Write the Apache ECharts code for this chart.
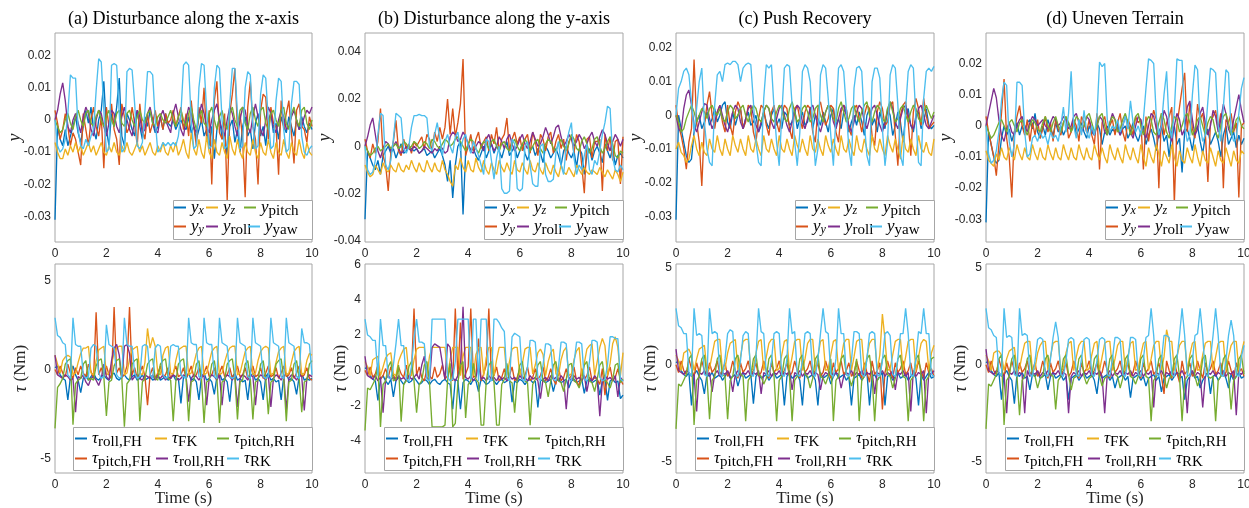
<!DOCTYPE html>
<html><head><meta charset="utf-8">
<script src="https://cdn.jsdelivr.net/npm/echarts@6/dist/echarts.min.js"></script>
<style>html,body{margin:0;padding:0;background:#fff}#c{width:1249px;height:508px}</style>
</head><body><div id="c"></div>
<script>
// sampling instants (s)
const time = Array.from({length:101},(_,i)=>i/10);

// ---------- top row: outputs y, values in units of 1e-3 ----------
const TOP_UNIT = 1e-3;
// (a)
const ya_x=[-31,-2,-6,-8,-3,-8,-5,-2,1,-4,-7,-2,3,-1,4,-3,-6,0,3,12,-3,-8,2,-2,4,13,-5,-8,2,0,-3,-5,3,-2,-6,1,-2,3,-1,-4,-2,1,-3,2,-1,-2,0,-3,-1,0,-2,-3,1,-4,-2,-6,-3,0,-5,-3,-8,-2,-12,-3,1,-6,-4,-11,-2,0,-7,-3,-10,-2,1,-5,-3,-9,-1,2,-5,-2,-8,0,2,-4,-1,-6,1,-2,-4,1,-2,-5,0,-3,1,-2,-4,-1,-3];
const ya_y=[3,-1,-6,-3,2,-2,-8,-4,-6,-10,-14,2,-3,-8,0,4,-2,-5,1,-15,4,-2,5,-3,-6,-14,5,1,-4,-2,4,-1,-8,5,-3,-6,2,-4,-1,3,-2,1,-3,2,-1,0,3,-2,1,4,-3,2,-5,6,-2,-8,4,-1,10,-6,3,-20,6,12,-4,-6,2,-25,2,8,16,-3,2,-6,-24,4,12,-2,-6,-20,3,8,7,-6,4,-1,-2,-17,6,-3,2,6,-4,-13.5,3,5,-2,-3,-7,1,-2];
const ya_z=[-7,-10,-12,-12,-9,-11,-8,-10,-7,-10,-8,-11,-9,-7,-10,-8,-11,-9,-7,-10,-11,-8,-10,-7,-10,-11,-8,-10,-7,-10,-11,-9,-7,-10,-8,-11,-9,-7,-10,-11,-8,-10,-7,-10,-11,-8,-10,-7,-11,-9,-6,-10,-12,-4,-9,-11,-6,-10,-12,-5,-10,-12,-6,-10,-11,-7,-10,-12,-5,-9,-11,-6,-10,-12,-7,-10,-11,-6,-10,-12,-7,-10,-11,-6,-10,-12,-7,-10,-11,-6,-10,-12,-7,-10,-11,-6,-10,-12,-7,-10,-11];
const ya_roll=[0,3,8,11.5,6,-2,-4,0,2,-1,-4,1,4,2,-3,-5,0,3,2,-2,-5,-1,3,2,-2,-4,1,4,0,-3,-5,0,3,1,-4,-3,2,4,0,-3,-4,1,3,0,-2,-4,2,5,1,-3,-5,0,4,2,-2,-4,1,5,2,-2,-4,0,3,5,0,-3,-5,0,4,2,-2,-5,0,4,3,-2,-4,1,5,1,-3,-5,0,4,2,-2,-4,0,3,1,-3,-2,1,3,0,-3,-2,1,3,2,4];
const ya_pitch=[0,-2,-4,-3,0,2,-1,-3,1,3,0,-2,2,3,-1,-2,1,3,0,-2,1,3,0,-2,2,3,-1,-2,2,3,0,-2,1,3,0,-1,2,3,-1,-2,1,2,0,-1,1,3,0,-2,1,3,0,-2,2,4,0,-3,1,3,-1,-2,2,4,0,-3,1,3,-1,-3,2,4,0,-2,3,4,-1,-3,2,4,0,-2,3,4,-1,-3,2,3,0,-2,3,4,-1,-3,2,4,0,-2,3,4,-1,-3,0];
const ya_yaw=[0,-8,-10,-9,-6,2,14,13,13,-3,-8,-9,-6,-8,-5,-3,9,19,18,3,-10,-9,17,17.5,17,2,-10,-9,15,16,15.5,5,-8,-9,-7,3,15,15,14,0,-10,-9,-7,-8,-7,-8,-7,-8,-5,2,17,18,17,0,-9,-8,10,17.5,17,3,-9,-8,10,17,16,0,-9,-8,5,16,16,2,-9,-8,10,15,14,-2,-9,-8,8,14,13,0,-9,-8,6,13,12,-3,-10,-9,5,12,12,11,-5,-10,-11,-9,-8];
// (b)
const yb_x=[-31,-2,-5,-8,-10,-6,-12,-4,-2,0,-3,-1,-5,-2,1,-3,-2,0,-1,-2,-1,-3,-2,-1,-4,-3,-2,-5,-3,-1,-4,-8,-15,-6,-22,-8,0,2,-29,-3,1,-2,-1,-4,-6,-3,0,-5,-2,1,-3,0,-2,-5,-1,2,-4,-2,0,-5,-2,1,-3,-6,-2,0,-4,-1,-3,-7,0,-2,-5,-3,-1,-4,-8,-2,0,-3,-5,-2,-9,-1,-3,-12,-4,-1,-6,-2,0,-3,-7,1,-2,-5,-1,-8,-4,-3,-5];
const yb_y=[3,-2,-5,1,-3,2,16,-4,-8,-19,-3,2,11,-2,-4,3,-1,1,-3,2,0,2,4,-1,5,3,-2,6,2,8,3,8,20,5,16,4,10,18,37,-4,0,5,-2,3,6,-1,2,4,-2,5,1,8,-2,3,5,12,-2,3,6,1,4,-2,3,5,-3,6,2,-4,5,3,-2,4,6,-3,2,5,-1,3,-6,2,4,-3,5,2,-8,-20,3,4,-5,2,2,3,-19,5,-2,4,-6,2,3,-16,4];
const yb_z=[-8,-11,-13,-12,-8,-10,-12,-7,-10,-11,-8,-10,-11,-7,-10,-11,-8,-10,-6,-9,-11,-7,-10,-11,-6,-9,-11,-7,-10,-11,-6,-10,-12,-15,-17,-8,-10,-5,-9,-11,-6,-10,-11,-5,-9,-11,-6,-10,-12,-7,-10,-12,-6,-9,-11,-7,-10,-12,-6,-10,-11,-7,-10,-12,-6,-10,-11,-7,-10,-12,-7,-10,-12,-8,-11,-13,-8,-11,-12,-9,-11,-13,-8,-10,-12,-9,-11,-12,-10,-11,-12,-9,-11,-13,-10,-12,-14,-10,-12,-15,-11];
const yb_roll=[0,4,9,12,5,-2,-5,-1,2,1,-2,0,2,-1,-3,-2,0,-1,-2,0,-1,-3,-2,0,-1,-2,-3,-1,-2,0,-1,-3,-2,4,6,5,2,3,6,4,1,-2,-3,0,2,1,-2,3,5,1,-2,0,4,2,-1,3,5,1,-2,0,3,5,1,-1,2,6,3,0,1,4,8,5,1,4,8,9,4,0,2,5,3,0,2,5,3,-1,1,4,6,2,0,4,7,5,1,-2,2,5,3,0,3];
const yb_pitch=[0,-2,-4,-3,-1,0,-2,-1,0,1,-1,0,1,-1,0,2,1,-1,0,2,1,-1,0,2,1,-1,3,2,0,-1,1,3,2,0,1,3,4,2,0,-2,1,3,2,-1,-3,0,2,1,-1,2,3,0,-2,1,2,-1,-2,1,3,0,-2,1,3,1,-2,0,2,3,-1,-3,1,3,2,-1,-2,1,3,0,-2,1,5,3,-1,-2,2,4,1,-3,-1,3,4,0,-3,-1,2,4,1,-4,-5,-2,-3];
const yb_yaw=[0,-10,-12,-11,-6,5,14,13,-8,-10,-6,3,14,13,12,-1,-3,0,8,13,13,13.5,13,13,12,0,-2,5,10,3,-4,2,5,0,-3,4,6,-2,3,5,0,-3,2,-1,-4,-8,-12,3,2,-6,-14,-5,0,-18,-20,-20,-19,3,1,-18,-19,-18,0,2,-8,-16,-17,-17,0,1,-12,-15,-15,-14,-3,2,-8,-12,0,6,10,-5,-12,-8,-10,-4,1,-10,-12,-6,-8,-2,5,10,17,16,-5,-10,-11,-8,-10];
// (c)
const yc_x=[-31,0,-4,-8,-12,-14,-13,-5,-2,0,-4,-2,1,-3,-1,2,-2,0,3,4,-2,-4,1,-3,0,2,-4,-1,1,-3,-2,0,-5,-3,1,-2,-4,0,2,-3,-1,-4,1,0,-3,-2,2,-4,-1,1,-3,-2,2,-4,0,-1,-3,1,-2,-5,0,2,-3,-1,-4,1,2,-5,-2,0,-3,1,-2,-6,0,2,-3,-1,-5,1,-2,-4,2,0,-6,-3,1,-2,-8,0,2,-3,-5,0,1,-4,-2,2,-3,-4,-3];
const yc_y=[3,-3,-6,-10,-16,-8,-4,16.5,-2,-8,-21,-3,3,7,0,-4,1,3,-2,-5,3,-3,-6,1,4,2,-4,-2,3,2,-5,-8,-1,3,2,-3,-6,1,3,-2,-5,0,3,2,-4,-7,2,3,-1,-4,1,3,2,-5,-8,2,4,0,-3,-1,3,2,-5,-8,1,3,2,-4,-6,2,3,-1,-5,0,3,2,-6,-9,1,4,2,-3,-2,3,4,-6,-15,0,3,4,-2,-12,1,5,2,-3,5,0,-4,-3,-2];
const yc_z=[-10,-8,-11,-12,-14,-13,-9,-6,-10,-12,-8,-11,-12,-7,-10,-11,-6,-10,-12,-7,-10,-12,-6,-9,-11,-7,-10,-12,-6,-10,-11,-7,-10,-12,-6,-10,-11,-7,-10,-12,-6,-10,-11,-7,-10,-12,-6,-9,-11,-7,-10,-12,-6,-10,-11,-7,-10,-12,-6,-9,-11,-7,-10,-12,-6,-10,-11,-7,-10,-12,-6,-10,-11,-7,-10,-12,-6,-10,-11,-7,-10,-12,-6,-9,-11,-7,-10,-13,-6,-10,-11,-7,-10,-12,-6,-10,-11,-8,-11,-12,-7];
const yc_roll=[0,-4,-5,2,6,7.5,3,-3,-5,-2,1,3.5,3,-1,-4,-2,1,3,0,-3,-5,-2,1,3,2,-2,-4,-1,2,3,0,-3,-5,-2,1,3,2,-2,-4,-1,2,3,0,-3,-5,-2,1,3,2,-2,-4,-1,2,3,0,-3,-5,-2,1,3,2,-2,-4,-1,2,3,0,-3,-5,-2,1,3,2,-2,-4,-1,2,3,0,-3,-5,-2,1,4,2,-2,-4,-1,2,3,0,-3,-4,-1,2,3,0,-3,-4,-2,0];
const yc_pitch=[0,-2,-5,-4,-1,1,3,1,-2,0,2,1,-1,2,3,1,0,2,-1,-2,1,3,2,-1,0,2,3,0,-2,1,3,2,-1,-2,1,3,2,-1,-2,1,3,2,-1,-2,2,4,1,-2,-1,2,3,1,-2,-1,2,3,0,-2,1,3,2,-1,-2,2,4,1,-2,-1,2,3,0,-2,1,3,4,0,-2,1,3,2,-1,-2,2,4,1,-2,-1,2,3,0,-2,1,3,2,-1,-2,1,3,1,-1,1];
const yc_yaw=[0,8,10,13,14,12,4,-5,2,10,14,-2,-10,-14,-15,3,12,13,10,15,15.5,15,16,16,15,10,14,15,15.5,15,4,-8,-14,-15,5,15,14,15,2,-8,-15,0,14,15,14.5,3,-8,-15,-5,13,15,14,10,-3,-15,-10,12,15,14,5,-6,-15,0,14,15,13,2,-10,-15,8,14,14.5,13,-2,-12,-15,10,14,14,11,-4,-15,-8,12,15,14,3,-12,-15,2,13,15,14,-1,-14,-15,5,13,14,13,14.5];
// (d)
const yd_x=[-31,-2,-6,-10,-12,-11,-4,0,-3,-1,-5,-2,1,-3,0,-2,1,2,-1,4,-2,-4,0,-3,2,-1,-3,1,-2,0,-3,-1,1,-2,2,-3,-1,1,-2,-4,0,-2,-3,1,-1,-6,-2,0,-3,-1,-2,1,-3,-1,0,-4,-2,1,-3,-5,-2,0,-6,-3,-1,-4,-8,-2,0,-5,-3,-10,-2,0,-6,-4,-15,-2,-1,-4,-8,-2,0,-5,-9,-3,-1,-6,-4,-2,-5,-10,-3,0,-6,-4,-2,-7,-3,-6,-4];
const yd_y=[3,-2,-6,-10,-16,-6,4,15,-4,-10,-23,-2,3,6.5,0,-3,2,-5,1,-3,2,-4,-1,3,-2,1,-5,2,-1,-3,1,3,-4,-2,2,0,-5,3,1,-2,2,-3,-6,4,-14,1,3,-2,0,2,-3,1,4,-2,-5,2,0,-3,3,1,2,-14,3,-5,1,5,2,-20,4,-3,1,3,6,-25,0,6,12,17,-2,7,-1,-4,7,2,4,-2,-18,1,3,5,-1,4,-20,2,1,4,-2,1,-23,0,1];
const yd_z=[-8,-11,-12,-13,-9,-11,-7,-10,-11,-7,-9,-11,-6,-9,-11,-7,-10,-11,-6,-9,-11,-7,-10,-11,-6,-9,-11,-7,-10,-11,-6,-9,-11,-7,-10,-11,-6,-9,-11,-7,-10,-11,-6,-9,-11,-7,-10,-12,-6,-9,-11,-7,-10,-12,-6,-9,-11,-7,-10,-12,-6,-10,-13,-7,-10,-12,-6,-9,-13,-8,-10,-12,-6,-10,-13,-8,-11,-12,-7,-10,-12,-6,-10,-13,-8,-11,-12,-7,-10,-13,-8,-11,-12,-7,-10,-13,-8,-11,-12,-8,-9];
const yd_roll=[0,4,8,12,9,2,-3,-5,-1,1,-2,-3,0,2,3,0,-2,1,3,2,0,1,2,0,-1,1,3,2,0,1,3,2,-1,0,3,4,1,-2,0,3,2,-1,-3,0,3,2,-2,-3,1,4,2,-1,-3,0,3,1,-2,-4,0,3,2,-2,-4,0,4,3,-1,-4,0,5,3,-2,-5,0,4,2,-3,-1,6,8,2,-3,-1,4,6,1,-3,0,5,3,-2,2,7,4,-1,-3,2,6,10,5,1];
const yd_pitch=[0,-2,-4,-3,-1,1,2,0,-2,1,2,0,-2,1,2,-1,-3,0,2,1,-1,-2,1,3,0,-2,1,3,0,-2,1,3,1,-2,0,3,2,-1,0,3,4,1,-2,0,3,4,0,-3,1,3,2,-2,-1,2,4,1,-3,0,3,4,0,-3,1,3,2,-2,-3,1,4,2,-2,-4,0,3,2,-2,0,3,4,1,-3,-1,2,3,0,-3,1,3,2,-2,-4,0,3,4,1,-3,-1,2,3,0,-1];
const yd_yaw=[0,-9,-12,-11,-8,-2,8,14,13,-5,-10,-6,14,14,13,-2,-10,-9,-4,-3,-5,-2,-4,-3,-6,-2,-4,-3,-5,0,6,-2,4,17.5,0,-4,2,-3,5,-2,-4,0,-3,3,20.5,19,20,2,-2,0,-1,2,-2,0,3,-1,8,1,-2,0,-3,2,12,21.5,21,20,3,-3,0,10,17.5,0,-4,5,21.5,21,21,0,-5,-3,10,19.5,18,0,-5,-3,8,18.5,18,17,0,-5,6,18,17,-2,-5,-4,4,12,15.5];

// ---------- bottom row: torques tau (Nm) ----------
// (a)
const ta_rollFH=[0.1,0.2,-0.3,-0.5,-0.6,-1.7,-0.4,0.2,-0.3,-0.6,-1.3,-0.5,-0.3,-0.6,-0.4,-0.2,-0.5,-0.6,-0.4,-0.3,-0.5,-0.6,-0.3,-0.2,-0.5,-0.6,-0.4,-0.3,-0.5,-0.6,-0.4,-0.3,-0.6,-0.5,-0.3,-0.6,-0.5,-0.4,-0.6,-0.5,-0.3,-0.6,-0.5,-0.4,-0.6,-0.5,-0.3,-0.6,-0.5,-1.9,-0.4,-0.5,-0.2,-0.6,-0.5,-0.7,-1.7,-0.4,-0.2,-0.6,-0.5,-0.7,-1.4,-0.4,-0.2,-0.6,-0.5,-0.7,-1.8,-0.4,-0.2,-0.6,-0.5,-0.7,-0.6,-1.7,-0.4,-0.2,-0.6,-0.5,-0.7,-1.7,-0.4,-0.2,-0.6,-0.5,-0.7,-0.6,-1.7,-0.4,-0.2,-0.6,-0.5,-0.7,-1.4,-0.4,-0.2,-0.6,-0.5,-0.6,-0.5];
const ta_pitchFH=[0.0,-0.3,0.2,-0.2,-0.4,0.3,-0.2,-0.5,0.1,-0.3,0.2,-0.2,-0.4,0.3,-0.1,-0.5,3.2,-0.3,0.1,-0.4,0.2,-0.3,-0.5,3.5,-0.2,0.1,-0.4,-0.3,0.2,3.5,-0.3,0.1,-0.5,-0.2,0.2,-0.4,-2.0,-0.3,0.1,-0.5,-0.2,0.2,-0.4,-0.3,0.1,-0.5,-0.2,0.2,-0.4,-0.3,0.1,-0.5,-0.2,0.2,-0.4,-0.3,0.1,-0.5,-0.2,0.2,-0.4,-0.3,0.1,-0.5,-0.2,0.2,-0.4,-0.3,0.1,-0.5,-0.2,0.2,-0.4,-0.3,0.1,-0.5,-0.2,0.2,-0.4,-0.3,0.1,-0.5,-0.2,0.2,-0.4,-0.3,0.1,-0.5,-0.2,0.2,-0.4,-0.3,0.1,-0.5,-0.2,0.2,-0.4,-0.3,0.1,-0.5,-0.6];
const ta_FK=[0.8,0.3,-0.2,0.5,0.7,0.8,0.7,-0.3,-0.2,0.4,0.9,1.2,1.2,1.3,-0.2,-0.3,0.5,1.1,1.2,1.3,-0.3,-0.2,0.3,0.9,1.2,1.3,1.3,-0.3,-0.2,0.6,1.1,1.2,1.3,-0.2,-0.3,0.4,2.3,1.2,1.8,1.3,-0.2,-0.3,0.8,1.2,1.3,-0.2,-0.3,0.5,1.1,1.2,1.3,1.3,-0.3,-0.2,0.3,0.9,1.2,1.3,-0.3,-0.2,0.4,1.0,1.2,1.3,-0.3,-0.2,0.4,0.9,1.2,1.3,1.3,-0.3,-0.2,0.4,1.0,1.2,1.3,-0.3,-0.2,0.5,1.0,1.2,1.3,1.2,-0.3,-0.2,0.4,1.0,1.2,1.3,-0.3,-0.2,0.4,1.0,1.2,1.3,-0.3,-0.2,0.5,0.9,0.8];
const ta_rollRH=[0.8,-0.3,-0.4,-0.5,-0.3,-0.4,-0.6,-0.5,-2.4,-0.4,-0.5,-0.3,-0.7,-0.9,-0.5,-0.4,-0.6,-0.9,-0.5,0.3,-0.4,-0.6,0.5,1.2,1.4,0.8,-0.5,1.3,1.4,0.9,-0.6,-0.4,-0.3,-0.5,-0.6,-0.3,-0.4,-0.5,-0.3,-0.6,-0.4,-0.5,-0.3,-0.6,-0.4,-0.5,-0.3,-0.4,-0.6,-0.5,-0.3,-0.4,-1.8,-0.5,-0.3,-0.4,-0.6,-0.3,-0.4,-2.0,-0.5,-0.3,-0.4,-0.6,-0.3,-2.0,-0.5,-0.3,-0.4,-0.6,-0.3,-2.1,-0.5,-0.3,-0.4,-0.6,-0.3,-0.4,-2.0,-0.5,-0.3,-0.4,-0.6,-0.3,-2.1,-0.5,-0.3,-0.4,-0.6,-0.3,-2.3,-0.5,-0.3,-0.4,-0.6,-0.3,-0.4,-2.3,-0.5,-0.3,-0.4];
const ta_pitchRH=[-3.3,-1.0,-0.8,-0.5,0.3,0.5,0.6,-3.1,-0.8,-0.6,-0.5,0.3,0.5,-0.6,-0.5,-0.6,0.2,0.5,0.6,-0.4,-2.6,-0.7,-0.6,0.2,0.5,0.6,-0.5,-3.2,-0.8,-0.6,0.3,0.5,0.6,-2.9,-0.7,-0.5,0.3,0.5,0.6,-0.5,-0.6,0.3,0.5,0.6,-0.5,-0.6,-2.9,-0.7,0.3,0.5,0.6,-0.5,-2.9,-0.7,-0.6,0.3,0.5,-0.5,-3.0,-0.7,-0.6,0.3,0.5,-0.5,-3.0,-0.7,-0.6,0.3,0.5,0.6,-0.5,-2.8,-0.7,-0.6,0.3,0.5,-0.5,-2.8,-0.7,-0.6,0.3,0.5,-0.5,-2.5,-0.7,-0.6,0.3,0.5,0.6,-0.5,-2.9,-0.7,-0.6,0.3,0.5,-0.5,-2.4,-0.7,-0.6,0.3,0.5];
const ta_RK=[2.9,1.9,1.8,1.5,1.4,-0.3,-0.5,2.9,1.4,1.3,1.3,-0.3,-0.5,-0.4,1.2,1.4,1.3,-0.2,-0.5,-0.4,2.5,1.4,1.3,1.2,-0.3,-0.5,-0.4,2.9,1.4,1.3,1.3,-0.2,-0.5,-0.4,1.3,1.4,1.3,-0.3,-0.5,1.2,1.4,1.3,-0.3,-0.5,-0.4,1.3,1.4,1.3,1.3,-0.3,-0.4,-0.5,2.9,1.5,1.4,1.4,-0.4,-0.5,2.9,1.5,1.4,1.4,-0.4,-0.5,2.9,1.5,1.4,1.3,-0.4,-0.5,-0.4,2.9,1.5,1.4,1.3,-0.4,-0.5,2.9,1.5,1.4,1.3,-0.4,-0.5,-0.4,2.9,1.5,1.4,1.3,-0.4,-0.5,2.9,1.5,1.4,1.3,-0.4,-0.5,2.3,1.5,1.5,1.4,-0.3];
// (b)
const tb_rollFH=[0.1,0.2,-0.3,-0.5,-0.6,-1.7,-0.5,-0.3,-0.6,-0.8,-0.5,-1.5,-0.6,-0.4,-0.6,-0.8,-0.5,-0.7,-0.6,-0.4,-0.6,-0.8,-0.7,-0.5,-0.6,-0.8,-0.6,-0.5,-0.7,-0.8,-0.6,-0.5,-0.7,-0.8,-2.2,-0.5,-0.6,-2.2,-0.7,-0.5,-0.6,-0.8,-0.5,-0.6,-1.2,-0.5,-0.6,-0.8,-0.7,-0.5,-0.6,-0.8,-0.6,-0.5,-0.7,-0.6,-0.5,-1.8,-0.6,-0.7,-0.5,-0.6,-0.8,-0.6,-0.5,-0.7,-0.6,-2.1,-0.6,-0.5,-0.7,-0.6,-0.5,-1.2,-0.6,-0.5,-0.7,-0.6,-0.5,-1.0,-0.6,-0.5,-0.7,-0.6,-0.5,-1.3,-0.6,-0.5,-0.7,-0.6,-0.5,-1.4,-0.6,-0.5,-1.7,-0.6,-0.5,-0.7,-0.6,-1.6,-1.4];
const tb_pitchFH=[0.0,-0.3,0.2,-0.4,-0.2,0.3,-0.5,-0.3,0.1,-0.4,0.2,-0.3,-0.5,0.2,-0.2,-0.4,0.3,-0.5,-0.2,3.5,-0.3,0.2,-0.4,-0.6,0.1,-0.3,-0.5,0.2,-0.4,-0.2,0.3,-0.5,-0.3,0.1,-0.6,3.5,-0.4,2.7,-0.5,-0.2,0.2,3.5,-0.4,-0.3,1.8,-0.6,-0.2,0.3,3.5,-0.5,-0.3,0.2,-0.6,-0.4,0.1,-0.5,-0.3,0.2,-0.6,-0.4,0.1,-0.5,-0.3,0.2,-0.6,-0.4,0.1,-0.5,-0.3,0.2,-0.6,-0.4,0.1,-0.5,-0.8,0.2,-0.6,-0.4,0.1,-0.5,-0.3,0.2,-0.6,-0.9,0.1,-0.5,-0.3,0.2,-0.6,-0.4,-0.5,-0.8,0.1,-1.4,-0.3,0.2,-0.6,-0.4,0.1,-0.5,-0.8];
const tb_FK=[0.5,0.2,-0.3,0.6,0.7,0.8,-0.3,0.2,0.7,0.9,1.0,-0.2,-0.3,0.5,0.9,1.2,1.3,-0.2,-0.3,0.6,1.2,1.3,1.3,1.3,-0.3,0.8,1.3,1.3,1.3,1.3,1.3,1.3,-0.3,0.6,1.3,1.3,1.3,-0.3,0.8,1.3,1.3,1.3,-0.3,0.9,1.3,1.3,-0.3,0.7,1.3,1.3,-0.3,0.6,1.3,1.3,1.3,-0.3,0.5,1.2,1.3,1.3,-0.3,0.4,1.2,1.3,1.3,-0.2,0.3,1.0,1.2,0.9,-0.3,0.5,1.0,1.2,-0.2,-0.3,0.6,1.1,1.3,-0.3,-0.2,0.6,1.1,1.3,-0.3,0.4,1.2,1.4,1.5,-0.3,0.5,1.3,1.8,1.4,-0.3,0.4,1.5,1.9,1.3,-0.3,1.0];
const tb_rollRH=[0.8,-0.3,-0.4,-0.5,-0.3,-0.6,-0.4,-2.4,-0.5,-0.3,-0.5,-0.4,-0.6,-0.3,-0.5,-0.4,-0.6,-0.3,-0.5,-0.4,-0.2,-0.5,0.3,0.8,-0.4,-0.6,1.3,1.5,1.4,1.3,0.4,-0.5,1.5,1.3,-0.4,-0.6,-0.3,0.2,3.6,-0.4,-0.5,-0.3,-0.6,-0.4,0.3,-0.5,-0.4,-0.6,-0.3,-0.5,-0.4,-0.6,-0.3,-0.5,-0.4,-0.6,-0.3,-0.5,-0.4,-0.6,-0.3,-0.5,-0.4,-0.6,-0.3,-0.5,-0.4,-0.6,-1.6,-0.5,-0.4,-0.6,-0.3,-0.5,-0.4,-0.6,-0.3,-0.5,-2.2,-0.4,-0.6,-0.3,-0.5,-0.4,-0.6,-0.3,-1.2,-0.4,-0.6,-0.3,-0.5,-2.6,-0.6,-0.3,-0.5,-0.4,-0.6,-0.3,-1.5,-0.4,-0.6];
const tb_pitchRH=[-3.4,-1.0,-1.1,-0.8,-0.5,0.3,-3.2,-0.8,-0.6,0.2,0.5,-0.6,-0.5,0.3,-2.9,-0.8,-0.6,0.2,0.5,-0.6,-2.4,-0.8,-0.6,0.3,0.5,-0.7,-3.2,-3.2,-3.2,-3.2,-3.2,-3.1,-0.6,0.4,-3.2,-3.0,-0.7,0.3,0.5,-2.7,-0.8,-0.6,0.4,-0.5,-0.7,-3.1,-3.1,-0.6,0.3,0.5,-0.7,-3.1,-3.1,-0.8,-0.5,0.4,-0.6,-0.7,-2.4,-0.6,0.3,0.5,-0.6,-0.7,-3.1,-0.8,-0.5,0.3,0.5,-0.6,-0.7,-1.5,-0.6,0.3,0.5,-0.6,-0.7,-1.2,-0.5,0.3,0.4,-0.6,-0.7,-1.0,-0.5,0.3,0.5,-0.6,-0.7,-1.2,-0.5,0.3,0.5,-0.6,-0.7,-1.0,-0.5,0.3,0.4,-0.7,-0.5];
const tb_RK=[2.9,2.0,1.9,1.7,1.7,-0.3,2.9,1.4,1.4,-0.4,-0.5,0.3,1.5,2.9,1.4,1.4,-0.5,-0.6,0.2,1.8,2.9,1.6,1.6,1.5,-0.5,-0.6,2.9,2.9,2.9,2.9,2.9,2.9,-0.4,-0.6,-0.5,0.5,2.9,2.9,2.9,2.9,2.9,-0.5,2.9,2.9,-0.6,2.9,2.9,2.9,-0.5,-0.6,2.9,2.9,2.7,2.4,2.2,-0.4,-0.6,1.9,2.1,2.0,1.9,-0.5,-0.6,0.2,1.7,1.7,1.6,-0.4,-0.6,0.3,1.5,1.5,1.4,-0.5,-0.6,0.2,1.6,1.6,1.5,-0.5,-0.6,0.4,1.6,1.6,1.5,-0.5,-0.6,0.5,1.7,1.7,1.6,-0.4,-0.6,-0.5,0.3,1.9,1.9,1.8,1.8,-0.5,-0.6];
// (c)
const tc_rollFH=[0.1,0.2,-0.3,-0.5,-0.6,-0.4,-2.1,-0.5,-0.3,-0.6,-0.8,-1.5,-0.5,-0.6,-0.4,-0.7,-0.6,-0.5,-0.8,-0.6,-0.4,-0.7,-0.6,-0.5,-1.1,-0.6,-0.4,-0.7,-0.6,-0.5,-2.0,-0.6,-0.4,-0.7,-0.6,-0.5,-0.8,-0.6,-0.4,-0.7,-0.6,-0.5,-2.1,-0.6,-0.4,-0.7,-0.6,-0.5,-0.8,-2.1,-0.4,-0.7,-0.6,-0.5,-0.8,-2.1,-0.4,-0.7,-0.6,-0.5,-1.0,-0.6,-0.4,-0.7,-0.6,-0.5,-0.8,-0.6,-2.1,-0.7,-0.6,-0.5,-0.8,-0.6,-0.4,-2.1,-0.6,-0.5,-0.8,-0.6,-0.4,-2.1,-0.6,-0.5,-0.8,-0.6,-0.4,-0.7,-0.6,-0.5,-0.8,-0.6,-0.4,-0.7,-2.1,-0.5,-0.8,-0.6,-0.4,-0.7,-0.6];
const tc_pitchFH=[0.0,-0.4,0.2,-0.3,-0.5,0.3,-0.2,-0.6,0.1,-0.4,0.2,-0.3,-0.6,0.1,-0.4,-0.2,0.2,-0.5,-0.3,0.1,-0.6,-0.4,0.2,-0.3,-0.7,0.1,-0.4,-0.2,0.2,-0.5,-0.3,0.1,-0.6,-0.4,0.2,-0.3,-0.7,0.1,-0.4,-0.2,0.2,-0.5,-0.3,0.1,-0.6,-0.4,0.2,-0.3,-0.7,0.1,-0.4,-0.2,0.2,-0.5,-0.3,0.1,-0.6,-0.4,0.2,-0.3,-0.7,0.1,-0.4,-0.2,0.2,-0.5,-0.3,0.1,-0.6,-0.4,0.2,-0.3,-0.7,0.1,-0.4,-0.9,0.2,-0.5,-0.3,0.1,-2.3,-0.4,0.2,-0.3,-0.7,0.1,-0.4,-0.2,0.2,-0.5,-0.3,0.1,-0.6,-0.4,0.2,-0.3,-0.7,0.1,-0.4,-0.2,-0.6];
const tc_FK=[0.5,0.2,-0.3,0.6,0.7,0.8,0.5,-0.3,0.3,0.8,0.9,1.0,-0.3,-0.2,0.5,1.2,1.3,1.3,-0.3,-0.2,0.6,1.1,1.2,1.3,-0.3,0.4,1.2,1.3,1.3,-0.3,-0.2,0.6,1.2,1.3,-0.3,0.4,1.1,1.3,1.3,-0.3,-0.2,0.5,1.2,1.3,-0.3,0.4,1.2,1.3,1.3,-0.3,0.3,1.1,1.3,1.3,-0.3,0.4,1.2,1.3,-0.3,-0.2,0.5,1.2,1.3,-0.3,0.3,1.1,1.3,1.3,-0.3,0.4,1.2,1.3,1.3,-0.3,0.4,1.1,1.3,1.3,-0.3,0.5,2.6,1.3,-0.3,-0.2,0.5,1.2,1.3,1.3,-0.3,0.4,1.2,1.3,1.3,-0.3,0.4,1.1,1.3,1.2,-0.3,0.6,1.0];
const tc_rollRH=[0.8,-0.3,-0.4,-0.5,-0.3,-0.4,-0.6,-0.5,-2.4,-0.4,-0.5,-0.3,-0.6,-0.4,-1.4,-0.5,-0.3,-0.6,-0.4,-0.5,-0.3,-0.6,-1.4,-0.5,-0.3,-0.6,-0.4,-0.5,-0.3,-0.6,-0.4,-0.5,-0.3,-1.5,-0.4,-0.5,-0.3,-0.6,-0.4,-0.5,-0.3,-0.6,-0.4,-0.5,-0.3,-1.3,-0.4,-0.5,-0.3,-0.6,-0.4,-0.5,-0.3,-0.6,-0.4,-0.5,-1.3,-0.6,-0.4,-0.5,-0.3,-0.6,-0.4,-0.5,-1.2,-0.6,-0.4,-0.5,-0.3,-0.6,-0.4,-0.5,-0.3,-0.6,-0.4,-0.5,-0.3,-1.5,-0.4,-0.5,-0.3,-0.6,-0.4,-0.5,-0.3,-1.3,-0.4,-0.5,-0.3,-0.6,-0.4,-2.4,-0.3,-0.6,-0.4,-0.5,-0.3,-2.5,-0.4,-0.5,-0.3];
const tc_pitchRH=[-3.3,-1.0,-1.1,-0.8,-0.5,0.3,0.5,-3.1,-0.8,-0.6,0.3,0.5,-0.6,-2.8,-0.8,-0.6,0.3,0.5,-0.5,-0.6,-2.8,-0.8,-0.6,0.3,0.5,-0.5,-0.6,-2.9,-0.8,-0.6,0.3,0.5,-0.5,-0.6,-1.0,-0.7,0.3,0.5,-0.6,-2.9,-0.8,-0.6,0.3,0.5,-0.6,-2.9,-0.8,-0.6,0.3,0.5,-0.5,-0.6,-1.2,-0.7,0.3,0.5,-0.6,-0.7,-1.0,-0.6,0.3,-2.9,-0.8,-0.6,0.3,0.5,-0.5,-0.6,-1.1,-0.6,0.3,-2.9,-0.8,-0.6,0.3,0.5,-0.6,-2.9,-0.8,-0.6,0.3,0.5,-0.5,-0.6,-1.2,-0.7,0.3,0.5,-0.6,-0.7,-2.9,-0.8,-0.6,0.3,0.5,-0.6,-2.9,-0.8,-0.6,0.3,0.4];
const tc_RK=[2.9,2.0,1.9,1.6,1.6,-0.4,-0.6,2.9,1.5,1.6,1.5,-0.5,-0.6,2.9,1.6,1.7,1.6,-0.5,-0.6,0.3,1.6,1.8,1.7,-0.5,-0.6,0.2,1.5,1.7,1.6,-0.5,-0.6,0.4,2.9,1.7,1.6,-0.5,-0.6,0.2,1.6,1.7,1.6,-0.5,-0.6,0.3,2.9,1.6,1.7,-0.5,-0.6,0.2,1.6,1.7,1.6,-0.5,-0.6,0.3,1.6,2.9,1.7,1.6,-0.5,-0.6,0.3,2.9,1.6,1.6,-0.5,-0.6,0.2,1.7,1.7,1.6,-0.5,-0.6,0.3,1.6,1.7,1.6,-0.5,-0.6,0.2,1.6,1.7,1.5,-0.5,-0.6,0.3,1.6,1.6,2.9,1.6,-0.5,-0.6,0.3,1.7,1.6,2.9,1.6,1.6,-0.5,-0.6];
// (d)
const td_rollFH=[0.1,0.2,-0.3,-0.5,-0.6,-0.4,-1.8,-0.5,-0.3,-0.6,-0.8,-2.0,-0.5,-0.6,-0.4,-0.7,-0.6,-1.3,-0.5,-0.6,-0.4,-0.7,-0.6,-0.5,-1.3,-0.6,-0.4,-0.7,-0.6,-0.5,-0.8,-0.6,-1.8,-0.7,-0.6,-0.5,-0.8,-0.6,-0.4,-0.7,-0.6,-0.5,-0.8,-1.5,-0.4,-0.7,-0.6,-0.5,-0.8,-0.6,-1.2,-0.7,-0.6,-0.5,-0.8,-0.6,-1.7,-0.7,-0.6,-0.5,-0.8,-0.6,-1.1,-0.7,-0.6,-0.5,-0.8,-0.6,-1.4,-0.7,-0.6,-0.5,-0.8,-0.6,-0.4,-0.7,-0.6,-1.8,-0.8,-0.6,-0.4,-0.7,-0.6,-1.2,-0.8,-0.6,-0.4,-1.5,-0.6,-0.5,-0.8,-0.6,-0.4,-0.7,-1.2,-0.5,-0.8,-0.6,-0.4,-0.7,-0.6];
const td_pitchFH=[0.0,-0.4,0.2,-0.3,-0.5,0.3,-0.2,-0.6,0.1,-0.4,0.2,-0.3,-0.6,0.1,-0.4,-0.2,0.2,-0.5,-0.3,0.1,-0.6,-0.4,0.2,-0.3,-0.7,0.1,-0.4,-0.2,0.2,-0.5,-0.3,0.1,-0.6,-0.4,0.2,-0.3,-0.7,0.1,-0.4,-0.2,0.2,-0.5,-0.3,0.1,-0.6,-0.4,0.2,-0.3,-0.7,0.1,-0.4,-0.2,0.2,-0.5,-0.3,0.1,-0.6,-0.4,0.2,-0.3,-0.7,0.1,-0.4,-0.2,0.2,-0.5,-0.3,0.1,-0.6,-1.5,0.2,-0.3,-0.7,0.1,-0.4,-0.9,0.2,-0.5,-0.3,0.1,-0.6,-0.4,0.2,-0.3,-0.7,0.1,-0.4,-0.2,0.2,-0.5,-0.3,0.1,-0.6,-0.4,0.2,-0.3,-0.7,0.1,-0.4,-0.2,-0.6];
const td_FK=[0.5,0.2,-0.3,0.6,0.7,0.7,0.5,-0.3,0.3,0.7,0.8,0.9,-0.3,-0.2,0.5,1.1,1.2,1.2,-0.3,-0.2,0.6,1.0,1.2,1.2,-0.3,0.4,1.1,1.2,1.2,-0.3,-0.2,0.6,1.1,1.2,-0.3,0.4,1.0,1.2,1.2,-0.3,-0.2,0.5,1.1,1.2,-0.3,0.4,1.1,1.2,1.2,-0.3,0.3,1.0,1.2,1.2,-0.3,0.4,1.1,1.2,-0.3,-0.2,0.5,1.1,1.2,-0.3,0.3,1.0,1.2,1.2,-0.3,0.4,1.8,1.2,1.2,-0.3,0.4,1.0,1.2,1.2,-0.3,0.5,1.1,1.2,-0.3,-0.2,0.5,1.1,1.2,1.2,-0.3,0.4,1.1,1.2,1.2,-0.3,0.4,1.0,1.2,1.2,-0.3,0.6,1.2];
const td_rollRH=[0.8,-0.3,-0.4,-0.5,-0.3,-0.4,-0.6,-0.5,-2.5,-0.4,-0.5,-0.3,-0.6,-0.4,-0.5,-2.5,-0.3,-0.6,-0.4,-0.5,-0.3,-0.6,-0.4,-0.5,-0.3,-0.6,-0.4,-0.5,-0.3,-0.6,-0.4,-0.5,-2.5,-0.6,-0.4,-0.5,-0.3,-0.6,-0.4,-0.5,-0.3,-0.6,-0.4,-0.5,-0.3,-0.6,-2.5,-0.5,-0.3,-0.6,-0.4,-0.5,-0.3,-0.6,-0.4,-0.5,-0.3,-0.6,-0.4,-0.5,-0.3,-0.6,-0.4,-0.5,-0.3,-2.2,-0.4,-0.5,-0.3,-0.6,-0.4,-0.5,-0.3,-0.6,-0.4,-0.5,-0.3,-0.6,-2.5,-0.5,-0.3,-0.6,-0.4,-0.5,-2.2,-0.6,-0.4,-0.5,-0.3,-0.6,-0.4,-0.5,-0.3,-0.6,-0.4,-0.5,-0.3,-2.6,-0.4,-0.5,-0.3];
const td_pitchRH=[-3.3,-1.0,-1.1,-0.8,-0.5,0.3,0.5,-3.1,-0.8,-0.6,0.3,0.5,-0.6,-2.6,-0.8,-0.6,0.3,0.5,-0.5,-0.6,-1.2,-0.7,-0.6,0.3,0.5,-0.5,-0.6,-2.3,-0.8,-0.6,0.3,0.5,-0.5,-1.3,-0.7,-0.6,0.3,0.5,-0.6,-1.0,-0.7,-0.6,0.3,0.5,-0.6,-1.1,-0.7,-0.6,0.3,0.5,-0.5,-0.6,-1.2,-0.7,0.3,0.5,-0.6,-0.7,-1.0,-0.6,0.3,0.5,-0.6,-0.7,-2.9,-0.8,-0.6,0.3,0.5,-0.6,-1.2,-0.7,-0.6,0.3,0.5,-0.6,-2.9,-0.8,-0.6,0.3,0.5,-0.6,-1.1,-0.7,0.3,0.5,-0.6,-0.7,-0.6,-2.9,-0.8,-0.6,0.3,0.5,-0.6,-2.3,-0.8,-0.6,0.3,0.5,-0.5];
const td_RK=[2.9,1.9,1.8,1.5,1.4,-0.4,-0.6,2.9,1.4,1.5,1.4,-0.5,-0.6,2.9,1.5,1.6,1.5,-0.5,-0.6,0.2,1.3,1.4,1.3,-0.5,-0.6,0.3,1.4,2.2,1.4,-0.5,-0.6,0.2,1.3,1.4,1.3,-0.5,-0.6,0.3,1.3,1.4,1.3,-0.5,-0.6,0.2,1.3,1.4,1.3,-0.5,-0.6,0.3,1.4,1.4,1.3,-0.5,-0.6,0.2,1.4,1.4,1.3,-0.5,-0.6,0.3,1.4,1.5,2.9,1.5,-0.5,-0.6,0.2,1.5,1.5,1.4,-0.5,-0.6,0.3,1.5,2.9,1.5,-0.5,-0.6,0.2,1.5,1.6,2.9,1.5,-0.5,-0.6,0.3,1.5,2.9,1.5,-0.5,-0.6,0.2,1.5,2.3,1.5,-0.5,-0.6,0.4,1.0];

// ---------- labels & ticks ----------
const panelTitles=['(a) Disturbance along the x-axis','(b) Disturbance along the y-axis','(c) Push Recovery','(d) Uneven Terrain'];
const topNames=['y_x','y_y','y_z','y_roll','y_pitch','y_yaw'];
const botNames=['tau_roll,FH','tau_pitch,FH','tau_FK','tau_roll,RH','tau_pitch,RH','tau_RK'];
const topRich=['{m|y}{si|x}','{m|y}{si|y}','{m|y}{si|z}','{m|y}{su|roll}','{m|y}{su|pitch}','{m|y}{su|yaw}'];
const botRich=['{m|τ}{su|roll,FH}','{m|τ}{su|pitch,FH}','{m|τ}{su|FK}','{m|τ}{su|roll,RH}','{m|τ}{su|pitch,RH}','{m|τ}{su|RK}'];
const xTicks=[0,2,4,6,8,10];
const yTicksTop=[[-0.03,-0.02,-0.01,0,0.01,0.02],[-0.04,-0.02,0,0.02,0.04],[-0.03,-0.02,-0.01,0,0.01,0.02],[-0.03,-0.02,-0.01,0,0.01,0.02]];
const yRangeTop=[[-0.0379,0.0270],[-0.0407,0.0481],[-0.0376,0.0244],[-0.0373,0.0298]];
const yTicksBot=[[-5,0,5],[-4,-2,0,2,4,6],[-5,0,5],[-5,0,5]];
const yRangeBot=[[-5.80,5.91],[-5.81,6.02],[-5.57,5.18],[-5.57,5.18]];

const topData=[[ya_x,ya_y,ya_z,ya_roll,ya_pitch,ya_yaw],[yb_x,yb_y,yb_z,yb_roll,yb_pitch,yb_yaw],[yc_x,yc_y,yc_z,yc_roll,yc_pitch,yc_yaw],[yd_x,yd_y,yd_z,yd_roll,yd_pitch,yd_yaw]];
const botData=[[ta_rollFH,ta_pitchFH,ta_FK,ta_rollRH,ta_pitchRH,ta_RK],[tb_rollFH,tb_pitchFH,tb_FK,tb_rollRH,tb_pitchRH,tb_RK],[tc_rollFH,tc_pitchFH,tc_FK,tc_rollRH,tc_pitchRH,tc_RK],[td_rollFH,td_pitchFH,td_FK,td_rollRH,td_pitchRH,td_RK]];

// ---------- styling / layout ----------
const colors=['#0072BD','#D95319','#EDB120','#7E2F8E','#77AC30','#4DBEEE'];
const gridLefts=[55,365,676,986], gridWidths=[257,258,258,258];
const ROW_TOP=[33,264], ROW_H=209;
const TICK_COLOR='#262626', BOX_COLOR='#a6a6a6';
const topLegendPos=[[1,0],[1,1],[33,0],[33,1],[71,0],[75,1]];
const botLegendPos=[[2,0],[2,1],[82,0],[83,1],[144,0],[154,1]];
const serif='"Liberation Serif", "DejaVu Serif", serif';

const grids=[],xAxes=[],yAxes=[],series=[],legends=[],graphics=[];
const fmt=v=>String(+(+v).toFixed(3));
const badLens=[];

function addPanel(p,row){
  const gi=grids.length;
  const left=gridLefts[p], w=gridWidths[p], top=ROW_TOP[row];
  grids.push({left,top,width:w,height:ROW_H,show:true,borderColor:BOX_COLOR,borderWidth:1,backgroundColor:'#fff',containLabel:false,outerBoundsMode:'none'});
  const ticks=row===0?yTicksTop[p]:yTicksBot[p];
  const range=row===0?yRangeTop[p]:yRangeBot[p];
  const xi=xAxes.length;
  xAxes.push({type:'value',gridIndex:gi,min:xTicks[0],max:xTicks[xTicks.length-1],interval:2,position:'bottom',
    axisLine:{show:false},axisTick:{show:false},splitLine:{show:false},
    axisLabel:{color:TICK_COLOR,fontFamily:'"Liberation Sans", Arial, sans-serif',fontSize:12,margin:6}});
  const yi=yAxes.length;
  yAxes.push({type:'value',gridIndex:gi,min:range[0],max:range[1],position:'left',
    axisLine:{show:false},axisTick:{show:false},splitLine:{show:false},
    axisLabel:{customValues:ticks,formatter:fmt,color:TICK_COLOR,fontFamily:'"Liberation Sans", Arial, sans-serif',fontSize:12,margin:4}});

  const arrs=row===0?topData[p]:botData[p];
  const names=row===0?topNames:botNames;
  const rich=row===0?topRich:botRich;
  const scale=row===0?TOP_UNIT:1;
  const boxW=row===0?139:239, boxH=row===0?39:43;
  const boxX=left+w-boxW, boxY=row===0?200:427;
  const rowCenters=row===0?[210,229]:[441,461];
  const lpos=row===0?topLegendPos:botLegendPos;
  graphics.push({type:'rect',z:50,shape:{x:boxX+0.5,y:boxY+0.5,width:boxW,height:boxH},style:{fill:'#fff',stroke:BOX_COLOR,lineWidth:1}});
  arrs.forEach((arr,k)=>{
    if(arr.length!==time.length) badLens.push(`${row}-${p}-${names[k]}:${arr.length}`);
    const sname=`${row}${p}|${names[k]}`;
    series.push({type:'line',name:sname,xAxisIndex:xi,yAxisIndex:yi,
      data:time.map((t,i)=>[t,arr[i]===undefined?null:arr[i]*scale]),
      symbol:'none',showSymbol:false,lineStyle:{width:1.35,color:colors[k]},itemStyle:{color:colors[k]},
      animation:false,silent:true,emphasis:{disabled:true},clip:true});
    const richStyles=row===0?{
      m:{fontFamily:serif,fontStyle:'italic',fontSize:17,color:'#000'},
      si:{fontFamily:serif,fontStyle:'italic',fontSize:12,color:'#000',padding:[7,0,0,0]},
      su:{fontFamily:serif,fontSize:15,color:'#000',padding:[7,0,0,0]}
    }:{
      m:{fontFamily:serif,fontStyle:'italic',fontSize:17,color:'#000'},
      su:{fontFamily:serif,fontSize:15,color:'#000',padding:[7,0,0,0]}
    };
    legends.push({show:true,data:[sname],left:boxX+lpos[k][0],top:rowCenters[lpos[k][1]]-11,
      icon:'rect',itemWidth:12,itemHeight:2,itemGap:0,padding:0,selectedMode:false,z:60,
      formatter:()=>rich[k],textStyle:{color:'#000',rich:richStyles}});
  });
}
for(let p=0;p<4;p++){addPanel(p,0);addPanel(p,1);}

// titles, axis names
for(let p=0;p<4;p++){
  const cx=gridLefts[p]+gridWidths[p]/2;
  graphics.push({type:'text',x:cx,y:19,style:{text:panelTitles[p],font:`18px ${serif}`,fill:'#000',align:'center',verticalAlign:'middle',textAlign:'center',textVerticalAlign:'middle'}});
  graphics.push({type:'text',x:cx,y:499,style:{text:'Time (s)',font:`17px ${serif}`,fill:'#262626',align:'center',verticalAlign:'middle',textAlign:'center',textVerticalAlign:'middle'}});
  const yx=[15,325,636,946][p];
  graphics.push({type:'text',x:yx,y:ROW_TOP[0]+ROW_H/2,rotation:Math.PI/2,style:{text:'y',font:`italic 18px ${serif}`,fill:'#262626',align:'center',verticalAlign:'middle',textAlign:'center',textVerticalAlign:'middle'}});
  const tx=[21,341,651,961][p];
  graphics.push({type:'text',x:tx,y:ROW_TOP[1]+ROW_H/2,rotation:Math.PI/2,style:{text:'{t|τ} (Nm)',font:`17px ${serif}`,fill:'#262626',align:'center',verticalAlign:'middle',textAlign:'center',textVerticalAlign:'middle',rich:{t:{fontStyle:'italic',fontFamily:serif,fontSize:18,fill:'#262626',color:'#262626'}}}});
}
if(badLens.length){console.error('length mismatch: '+badLens.join(', '));
  graphics.push({type:'text',x:600,y:490,z:100,style:{text:'LEN '+badLens.join(', '),fill:'red',font:'10px sans-serif'}});}

const chart=echarts.init(document.getElementById('c'),null,{renderer:'canvas'});
chart.setOption({animation:false,backgroundColor:'#fff',grid:grids,xAxis:xAxes,yAxis:yAxes,series,legend:legends,graphic:graphics});
</script></body></html>
